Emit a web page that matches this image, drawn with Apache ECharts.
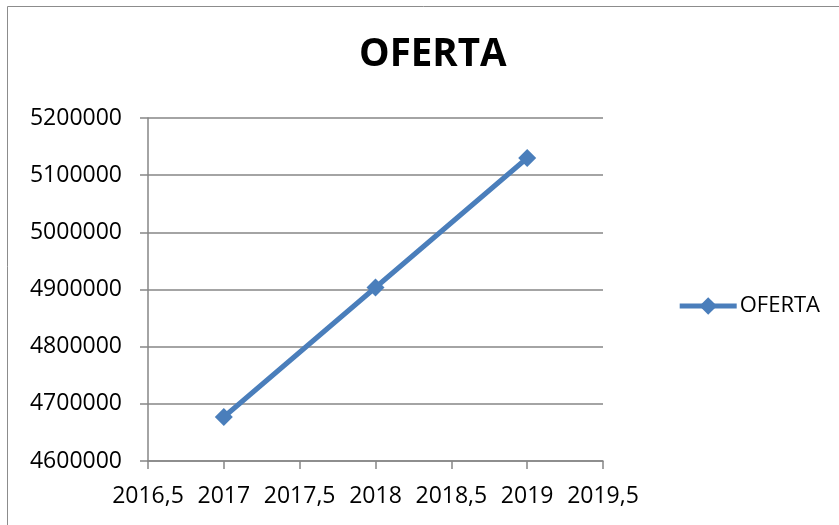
<!DOCTYPE html>
<html><head><meta charset="utf-8">
<script src="https://cdn.jsdelivr.net/npm/echarts@6/dist/echarts.min.js"></script>
<style>html,body{margin:0;padding:0;background:#fff}#c{width:839px;height:525px}</style>
</head><body><div id="c"></div>
<script>
const years = [2017, 2018, 2019];
const oferta = [4677000, 4903500, 5130000];
const seriesName = 'OFERTA';
const titleText = 'OFERTA';

const chart = echarts.init(document.getElementById('c'));
const fmtX = v => String(v).replace('.', ',');
chart.setOption({
  animation: false,
  graphic: [{type:'rect', shape:{x:7.5,y:6.5,width:840,height:530}, style:{fill:'none', stroke:'#8c8c8c', lineWidth:1}, silent:true}],
  title: {text: titleText, left: 354, top: 31, textStyle:{fontFamily:'Open Sans', fontWeight:'bold', fontSize:38.5, color:'#000'}},
  legend: {right: 14, top: 290, itemWidth: 57, itemHeight: 22, itemGap: 4,
    lineStyle:{width:5},
    textStyle:{fontFamily:'Open Sans', fontSize:22, color:'#000', padding:[0,0,0,-2]},
    data:[{name: seriesName}]},
  grid: {left: 148, right: 236, top: 118, bottom: 64, containLabel:false},
  xAxis: {type:'value', min:2016.5, max:2019.5, interval:0.5,
    axisLine:{show:true, lineStyle:{color:'#868686', width:1.5}},
    axisTick:{show:true, length:8, lineStyle:{color:'#868686', width:1.5}},
    splitLine:{show:false},
    axisLabel:{formatter: fmtX, fontFamily:'Open Sans', fontSize:23, color:'#000', margin:24}},
  yAxis: {type:'value', min:4600000, max:5200000, interval:100000,
    axisLine:{show:true, lineStyle:{color:'#868686', width:1.5}},
    axisTick:{show:true, length:8, inside:false, lineStyle:{color:'#868686', width:1.5}},
    splitLine:{show:true, lineStyle:{color:'#868686', width:1.5}},
    axisLabel:{formatter: v => String(v), fontFamily:'Open Sans', fontSize:23, color:'#000', margin:26}},
  series: [{name: seriesName, type:'line', data: years.map((y,i)=>[y, oferta[i]]),
    symbol:'diamond', symbolSize:18,
    lineStyle:{color:'#4a7ebb', width:5},
    itemStyle:{color:'#4a7ebb'}}]
});
</script></body></html>
